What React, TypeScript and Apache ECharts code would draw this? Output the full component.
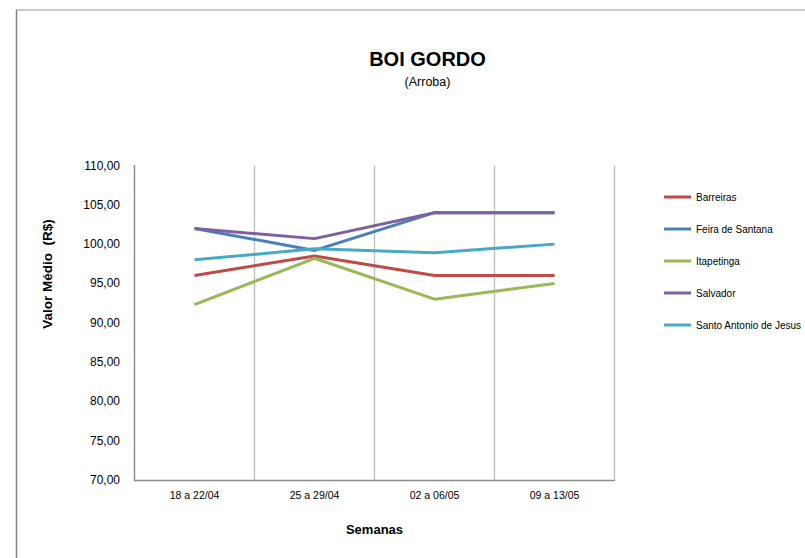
import React, { useEffect, useRef } from "react";
import * as echarts from "echarts";

const categories = ["18 a 22/04", "25 a 29/04", "02 a 06/05", "09 a 13/05"];
const seriesNames = ["Barreiras", "Feira de Santana", "Itapetinga", "Salvador", "Santo Antonio de Jesus"];
const barreiras = [96, 98.5, 96, 96];
const feiraDeSantana = [102, 99.2, 104, 104];
const itapetinga = [92.3, 98.2, 93, 95];
const salvador = [102, 100.7, 104, 104];
const santoAntonio = [98, 99.4, 98.9, 100];
const seriesColors = ["#BE4B48", "#4A7EBB", "#98B954", "#7D60A0", "#46AAC5"];

const FONT = "'Liberation Sans', Arial, Helvetica, sans-serif";

export default function App() {
  const ref = useRef<HTMLDivElement>(null);
  useEffect(() => {
    if (!ref.current) return;
    const chart = echarts.init(ref.current, null, { renderer: "svg" });
    const values = [barreiras, feiraDeSantana, itapetinga, salvador, santoAntonio];
    chart.setOption({
      animation: false,
      backgroundColor: "#ffffff",
      textStyle: { fontFamily: FONT },
      graphic: [
        { type: "line", shape: { x1: 16, y1: 10, x2: 805, y2: 10 }, style: { stroke: "#bdbdbd", lineWidth: 1.5 } },
        { type: "line", shape: { x1: 16.5, y1: 10, x2: 16.5, y2: 558 }, style: { stroke: "#858585", lineWidth: 1.5 } },
        {
          type: "text", x: 427.5, y: 59,
          style: { text: "BOI GORDO", fontFamily: FONT, fontSize: 20, fontWeight: "bold", fill: "#000", textAlign: "center", textVerticalAlign: "middle" },
        },
        {
          type: "text", x: 427.5, y: 82,
          style: { text: "(Arroba)", fontFamily: FONT, fontSize: 12.5, fill: "#000", textAlign: "center", textVerticalAlign: "middle" },
        },
        {
          type: "text", x: 47.5, y: 274, rotation: Math.PI / 2,
          style: { text: "Valor Médio  (R$)", fontFamily: FONT, fontSize: 13.5, fontWeight: "bold", fill: "#000", textAlign: "center", textVerticalAlign: "middle" },
        },
      ],
      legend: {
        orient: "vertical",
        left: 659,
        top: 185,
        icon: "rect",
        itemWidth: 27,
        itemHeight: 3,
        itemGap: 18,
        data: seriesNames,
        textStyle: { fontFamily: FONT, fontSize: 10, color: "#000", lineHeight: 14 },
      },
      grid: { left: 134.5, right: 190.5, top: 165.5, bottom: 78, containLabel: false },
      xAxis: {
        type: "category",
        data: categories,
        boundaryGap: true,
        name: "Semanas",
        nameLocation: "middle",
        nameGap: 43,
        nameTextStyle: { fontFamily: FONT, fontSize: 13, fontWeight: "bold", color: "#000" },
        axisLine: { lineStyle: { color: "#8c8c8c", width: 1.3 } },
        axisTick: { show: false },
        axisLabel: { fontFamily: FONT, fontSize: 10.5, color: "#000", margin: 9 },
        splitLine: { show: true, lineStyle: { color: "#bdbdbd", width: 1.3 } },
      },
      yAxis: {
        type: "value",
        min: 70,
        max: 110,
        interval: 5,
        axisLine: { show: true, lineStyle: { color: "#8c8c8c", width: 1.3 } },
        axisTick: { show: false },
        splitLine: { show: false },
        axisLabel: {
          fontFamily: FONT, fontSize: 12, color: "#000", margin: 14.5,
          formatter: (v: number) => v.toFixed(2).replace(".", ","),
        },
      },
      series: seriesNames.map((name, i) => ({
        name,
        type: "line",
        data: values[i],
        symbol: "none",
        showSymbol: false,
        color: seriesColors[i],
        lineStyle: { width: 3, color: seriesColors[i] },
      })),
    });
    return () => chart.dispose();
  }, []);
  return <div ref={ref} style={{ position: "fixed", left: 0, top: 0, width: 805, height: 558 }} />;
}
